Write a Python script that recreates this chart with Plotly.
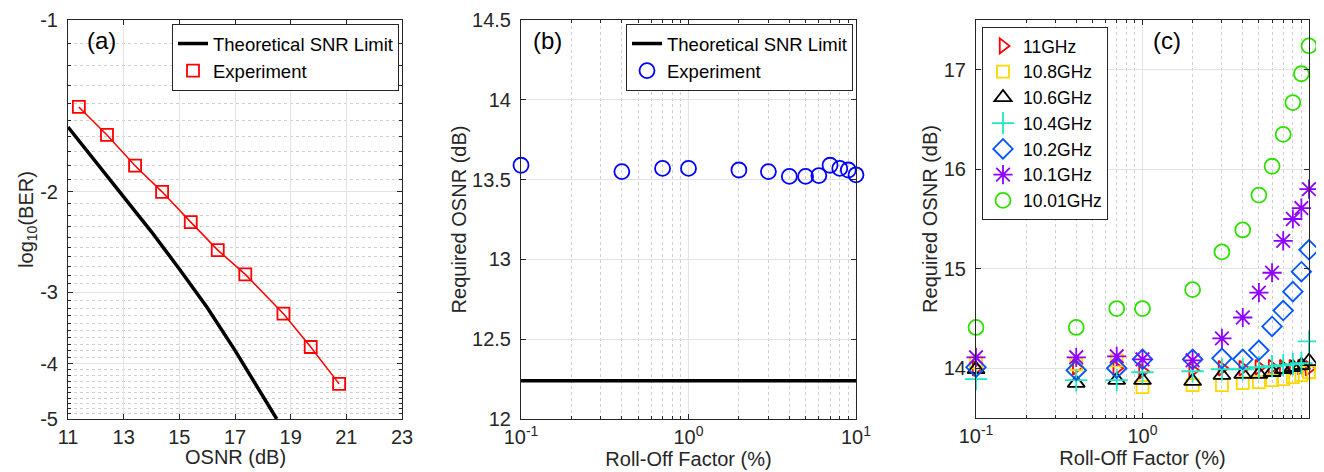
import plotly.graph_objects as go

# ---- (a) log10(BER) vs OSNR ----
osnr_theory = [11.0, 12.0, 13.0, 14.0, 15.0, 16.0, 17.0, 18.0, 18.5]
ber_theory = [-1.54, -1.77, -2.04, -2.35, -2.73, -3.19, -3.79, -4.57, -5.0]
osnr_exp = [11.39, 12.40, 13.41, 14.38, 15.41, 16.38, 17.37, 18.74, 19.72, 20.74]
ber_exp = [-1.42, -1.59, -1.80, -2.00, -2.26, -2.53, -2.79, -3.27, -3.74, -4.34]

# ---- (b) required OSNR vs roll-off ----
rolloff = [0.1, 0.4, 0.7, 1, 2, 3, 4, 5, 6, 7, 8, 9, 10]
req_osnr_exp = [13.59, 13.55, 13.57, 13.57, 13.56, 13.55, 13.52, 13.52, 13.525,
                13.59, 13.57, 13.56, 13.53]
snr_limit = 12.24

# ---- (c) required OSNR per filter bandwidth ----
bw_names = ["11GHz", "10.8GHz", "10.6GHz", "10.4GHz", "10.2GHz", "10.1GHz", "10.01GHz"]
osnr_11 = [14.00, 14.01, 14.00, 13.97, 13.98, 14.00, 14.00, 14.01, 14.01, 14.01, 14.01, 14.01, 14.00]
osnr_10_8 = [14.06, 14.04, 14.08, 13.81, 13.83, 13.83, 13.85, 13.86, 13.88, 13.89, 13.91, 13.93, 13.96]
osnr_10_6 = [13.99, 13.85, 13.88, 13.88, 13.87, 13.93, 13.94, 13.94, 13.96, 13.99, 14.01, 14.03, 14.07]
osnr_10_4 = [13.89, 13.88, 13.88, 13.96, 13.97, 13.99, 13.99, 14.01, 14.02, 14.03, 14.04, 14.05, 14.27]
osnr_10_2 = [14.01, 13.98, 14.00, 14.09, 14.09, 14.10, 14.09, 14.18, 14.42, 14.58, 14.77, 14.97, 15.19]
osnr_10_1 = [14.11, 14.11, 14.12, 14.09, 14.08, 14.30, 14.51, 14.76, 14.96, 15.28, 15.50, 15.61, 15.80]
osnr_10_01 = [14.41, 14.41, 14.60, 14.60, 14.79, 15.17, 15.39, 15.74, 16.03, 16.35, 16.67, 16.96, 17.24]

# page body has an 8px margin, so the figure is drawn 8px in from the top-left
OFF = 8
W, H = 1324 - OFF, 472 - OFF
FONT = "Liberation Sans, Arial, sans-serif"
AX = "#262626"
TICK_SIZE = 20
LEG_SIZE = 18.5

fig = go.Figure()

# (a)
fig.add_trace(go.Scatter(x=osnr_theory, y=[-b for b in ber_theory], mode="lines",
                         line=dict(color="black", width=3.5), name="Theoretical SNR Limit",
                         xaxis="x", yaxis="y", legend="legend"))
fig.add_trace(go.Scatter(x=osnr_exp, y=[-b for b in ber_exp], mode="lines",
                         line=dict(color="red", width=1.5), showlegend=False,
                         xaxis="x", yaxis="y"))
fig.add_trace(go.Scatter(x=osnr_exp, y=[-b for b in ber_exp], mode="markers",
                         marker=dict(symbol="square-open", size=12, color="red",
                                     line=dict(width=1.8, color="red")),
                         name="Experiment", xaxis="x", yaxis="y", legend="legend",
                         cliponaxis=False))

# (b)
fig.add_trace(go.Scatter(x=[rolloff[0], rolloff[-1]], y=[snr_limit, snr_limit], mode="lines",
                         line=dict(color="black", width=3.5), name="Theoretical SNR Limit",
                         xaxis="x2", yaxis="y2", legend="legend2"))
fig.add_trace(go.Scatter(x=rolloff, y=req_osnr_exp, mode="markers",
                         marker=dict(symbol="circle-open", size=15, color="blue",
                                     line=dict(width=1.8, color="blue")),
                         name="Experiment", xaxis="x2", yaxis="y2", legend="legend2",
                         cliponaxis=False))

# (c)
series_c = [osnr_11, osnr_10_8, osnr_10_6, osnr_10_4, osnr_10_2, osnr_10_1, osnr_10_01]
symbols = ["triangle-right-open", "square-open", "triangle-up-open", "cross-thin-open",
           "diamond-open", "asterisk-open", "circle-open"]
colors = ["#ff0000", "#ffd800", "#000000", "#1de9c6", "#0055ff", "#9000ff", "#2ee000"]
sizes = [13, 12, 15, 16, 15, 16, 15]
for name, ys, sym, col, sz in zip(bw_names, series_c, symbols, colors, sizes):
    fig.add_trace(go.Scatter(x=rolloff, y=ys, mode="markers", name=name,
                             marker=dict(symbol=sym, size=sz, color=col,
                                         line=dict(width=1.8, color=col)),
                             xaxis="x3", yaxis="y3", legend="legend3", cliponaxis=False))


def px_x(a, b):
    return [(a - OFF) / W, (b - OFF) / W]


def px_y(top, bottom):
    return [1 - (bottom - OFF) / H, 1 - (top - OFF) / H]


def pos(x, y):
    return (x - OFF) / W, 1 - (y - OFF) / H


common = dict(showline=True, linecolor=AX, linewidth=1, mirror="allticks",
              ticks="inside", ticklen=5, tickcolor=AX, tickwidth=1, automargin=False,
              showgrid=True, gridcolor="#e3e3e3", gridwidth=1, zeroline=False,
              tickfont=dict(family=FONT, size=TICK_SIZE, color=AX),
              title_font=dict(family=FONT, size=TICK_SIZE, color=AX))
xcommon = dict(common, ticklabelstandoff=0)
ycommon = dict(common, ticklabelstandoff=5)

minor_log_x = dict(tickmode="array", tickvals=[0.2, 0.3, 0.4, 0.5, 0.6, 0.7, 0.8, 0.9,
                                               2, 3, 4, 5, 6, 7, 8, 9],
                   ticks="inside", ticklen=3, tickcolor=AX, showgrid=True,
                   gridcolor="#cfcfcf", griddash="dot", gridwidth=1)
minor_ber = dict(tickmode="array",
                 tickvals=[i / 10 for i in range(11, 50) if i % 10 != 0],
                 ticks="inside", ticklen=3, tickcolor=AX, showgrid=True,
                 gridcolor="#cfcfcf", griddash="dot", gridwidth=1)

legend_style = dict(bgcolor="white", bordercolor=AX, borderwidth=1, itemwidth=30,
                    font=dict(family=FONT, size=LEG_SIZE, color="black"), tracegroupgap=0,
                    yanchor="top")

lx1, ly1 = pos(399, 24)
lx2, ly2 = pos(853, 24)
lx3, ly3 = pos(982, 27)

fig.update_layout(
    width=W, height=H,
    margin=dict(l=0, r=0, t=0, b=0, autoexpand=False),
    paper_bgcolor="white", plot_bgcolor="white",
    font=dict(family=FONT, size=TICK_SIZE, color=AX),
    xaxis=dict(domain=px_x(68, 402), anchor="y", range=[11, 23], tickmode="array",
               tickvals=[11, 13, 15, 17, 19, 21, 23], **xcommon),
    yaxis=dict(domain=px_y(20, 419), anchor="x", type="log", range=[0.69897, 0],
               tickmode="array", tickvals=[1, 2, 3, 4, 5],
               ticktext=["-1", "-2", "-3", "-4", "-5"], minor=minor_ber,
               title=dict(text="log<sub>10</sub>(BER)", standoff=0), **ycommon),
    xaxis2=dict(domain=px_x(521, 856), anchor="y2", type="log", range=[-1, 1],
                tickmode="array", tickvals=[0.1, 1, 10],
                ticktext=["10<sup>-1</sup>", "10<sup>0</sup>", "10<sup>1</sup>"],
                minor=minor_log_x, title=dict(text="Roll-Off Factor (%)", standoff=0), **xcommon),
    yaxis2=dict(domain=px_y(20, 419), anchor="x2", range=[12, 14.5], tickmode="array",
                tickvals=[12, 12.5, 13, 13.5, 14, 14.5],
                title=dict(text="Required OSNR (dB)", standoff=0), **ycommon),
    xaxis3=dict(domain=px_x(976, 1309), anchor="y3", type="log", range=[-1, 1],
                tickmode="array", tickvals=[0.1, 1, 10],
                ticktext=["10<sup>-1</sup>", "10<sup>0</sup>", "10<sup>1</sup>"],
                minor=minor_log_x, title=dict(text="Roll-Off Factor (%)", standoff=0), **xcommon),
    yaxis3=dict(domain=px_y(20, 418), anchor="x3", range=[13.5, 17.5], tickmode="array",
                tickvals=[14, 15, 16, 17],
                title=dict(text="Required OSNR (dB)", standoff=0), **ycommon),
    legend=dict(x=lx1, y=ly1, xanchor="right", **legend_style),
    legend2=dict(x=lx2, y=ly2, xanchor="right", **legend_style),
    legend3=dict(x=lx3, y=ly3, xanchor="left", **dict(legend_style,
                 font=dict(family=FONT, size=17.5, color="black"))),
    showlegend=True,
)

# x title of (a) sits closer to its plain-number tick labels
tx, ty = pos(235, 457)
fig.add_annotation(x=tx, y=ty, xref="paper", yref="paper", text="OSNR (dB)",
                   xanchor="center", yanchor="middle", showarrow=False,
                   font=dict(family=FONT, size=TICK_SIZE, color=AX))

for px, lab in [(101, "(a)"), (547, "(b)"), (1167, "(c)")]:
    ax_, ay_ = pos(px, 41)
    fig.add_annotation(x=ax_, y=ay_, xref="paper", yref="paper", text=lab,
                       xanchor="center", yanchor="middle", showarrow=False,
                       font=dict(family=FONT, size=24, color="black"))

fig.write_html("out.html")
